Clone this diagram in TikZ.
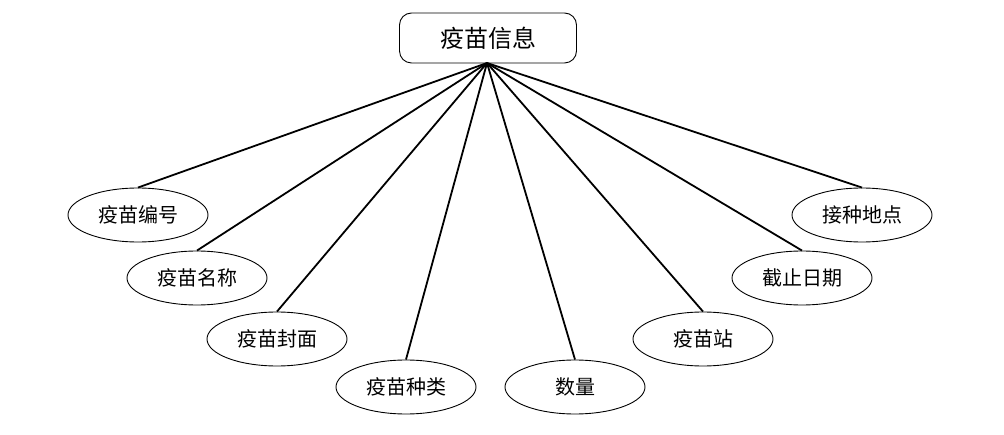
\documentclass[tikz,border=0pt]{standalone}
\usepackage{fontspec}
\setmainfont{Noto Sans CJK SC}
\usetikzlibrary{shapes.geometric}
\begin{document}
\begin{tikzpicture}[x=1pt,y=-1pt,
  attr/.style={draw, ellipse, line width=0.9pt, minimum width=140pt, minimum height=54pt, inner sep=0pt, font=\fontsize{20}{20}\selectfont},
  entity/.style={draw, rounded corners=12pt, line width=0.9pt, minimum width=177pt, minimum height=50pt, inner sep=0pt, font=\fontsize{24}{24}\selectfont},
  link/.style={line width=1.8pt}]
\useasboundingbox (0,0) rectangle (1004,435);
\node[entity] (top) at (488,38) {疫苗信息};
\node[attr] (a1) at (138,215) {疫苗编号};
\node[attr] (a2) at (197,278) {疫苗名称};
\node[attr] (a3) at (277,339) {疫苗封面};
\node[attr] (a4) at (406,387) {疫苗种类};
\node[attr] (a5) at (575,387) {数量};
\node[attr] (a6) at (703,339) {疫苗站};
\node[attr] (a7) at (802,278) {截止日期};
\node[attr] (a8) at (862,215) {接种地点};
\coordinate (hub) at (487,63);
\foreach \n in {a1,a2,a3,a4,a5,a6,a7,a8}
  \draw[link] (hub) -- (\n.north);
\end{tikzpicture}
\end{document}
